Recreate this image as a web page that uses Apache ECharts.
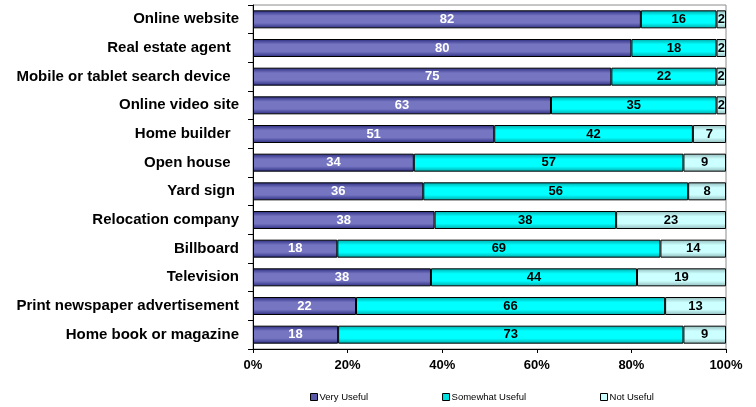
<!DOCTYPE html>
<html>
<head>
<meta charset="utf-8">
<script src="https://cdn.jsdelivr.net/npm/echarts@6/dist/echarts.min.js"></script>
<style>
  html, body { margin: 0; padding: 0; background: #fff; }
  #chart { width: 756px; height: 407px; }
</style>
</head>
<body>
<div id="chart"></div>
<script>
// 类目（从上到下）
var categories = [
  'Online website', 'Real estate agent  ', 'Mobile or tablet search device  ',
  'Online video site', 'Home builder  ', 'Open house  ', 'Yard sign ',
  'Relocation company', 'Billboard', 'Television',
  'Print newspaper advertisement', 'Home book or magazine'
];
var veryUseful     = [82, 80, 75, 63, 51, 34, 36, 38, 18, 38, 22, 18];
var somewhatUseful = [16, 18, 22, 35, 42, 57, 56, 38, 69, 44, 66, 73];
var notUseful      = [2, 2, 2, 2, 7, 9, 8, 23, 14, 19, 13, 9];
var seriesNames = ['Very Useful', 'Somewhat Useful', 'Not Useful'];

var raw = [veryUseful, somewhatUseful, notUseful];
// 100% 堆叠：按每行合计换算
var totals = categories.map(function (c, i) {
  return veryUseful[i] + somewhatUseful[i] + notUseful[i];
});

function grad(edge, mid) {
  return new echarts.graphic.LinearGradient(0, 0, 0, 1, [
    { offset: 0, color: edge },
    { offset: 0.3, color: mid },
    { offset: 0.7, color: mid },
    { offset: 1, color: edge }
  ]);
}
var fills = [
  grad('#2b2b80', '#7575c2'),
  grad('#00a8a8', '#00ffff'),
  grad('#8fb8b8', '#ccffff')
];
var labelColors = ['#fff', '#000', '#000'];
var legendColors = ['#5a5aa8', '#00e0e0', '#ccffff'];

var font = 'Arial, "Liberation Sans", sans-serif';

var chart = echarts.init(document.getElementById('chart'));

var series = raw.map(function (arr, k) {
  return {
    name: seriesNames[k],
    type: 'bar',
    stack: 'total',
    barWidth: 18,
    data: arr.map(function (v, i) { return v / totals[i] * 100; }),
    itemStyle: { color: fills[k], borderColor: '#000', borderWidth: 1 },
    label: {
      show: true,
      position: 'inside',
      color: labelColors[k],
      fontFamily: font,
      fontWeight: 'bold',
      fontSize: 13,
      formatter: function (p) { return raw[k][p.dataIndex]; }
    },
    emphasis: { disabled: true }
  };
});

chart.setOption({
  animation: false,
  grid: {
    left: 253, right: 30, top: 5, bottom: 58,
    show: true, borderColor: '#8c8c8c', borderWidth: 1
  },
  legend: {
    left: 310,
    top: 392,
    padding: 0,
    itemGap: 74,
    itemWidth: 7,
    itemHeight: 7,
    icon: 'rect',
    textStyle: { fontFamily: font, fontSize: 9.5, color: '#000', padding: [0, 0, 0, -3] },
    data: seriesNames.map(function (n, k) {
      return { name: n, itemStyle: { color: legendColors[k], borderColor: '#000', borderWidth: 1 } };
    })
  },
  xAxis: {
    type: 'value',
    min: 0,
    max: 100,
    interval: 20,
    axisLine: { show: true, lineStyle: { color: '#000', width: 1 } },
    axisTick: { show: true, length: 4, lineStyle: { color: '#000' } },
    splitLine: { show: false },
    axisLabel: {
      formatter: '{value}%',
      color: '#000',
      fontFamily: font,
      fontWeight: 'bold',
      fontSize: 13,
      margin: 10
    }
  },
  yAxis: {
    type: 'category',
    inverse: true,
    data: categories,
    axisLine: { show: true, lineStyle: { color: '#000', width: 1 } },
    axisTick: { show: true, length: 5, inside: false, lineStyle: { color: '#000' } },
    axisLabel: {
      color: '#000',
      fontFamily: font,
      fontWeight: 'bold',
      fontSize: 15,
      margin: 14
    }
  },
  series: series
});
</script>
</body>
</html>
